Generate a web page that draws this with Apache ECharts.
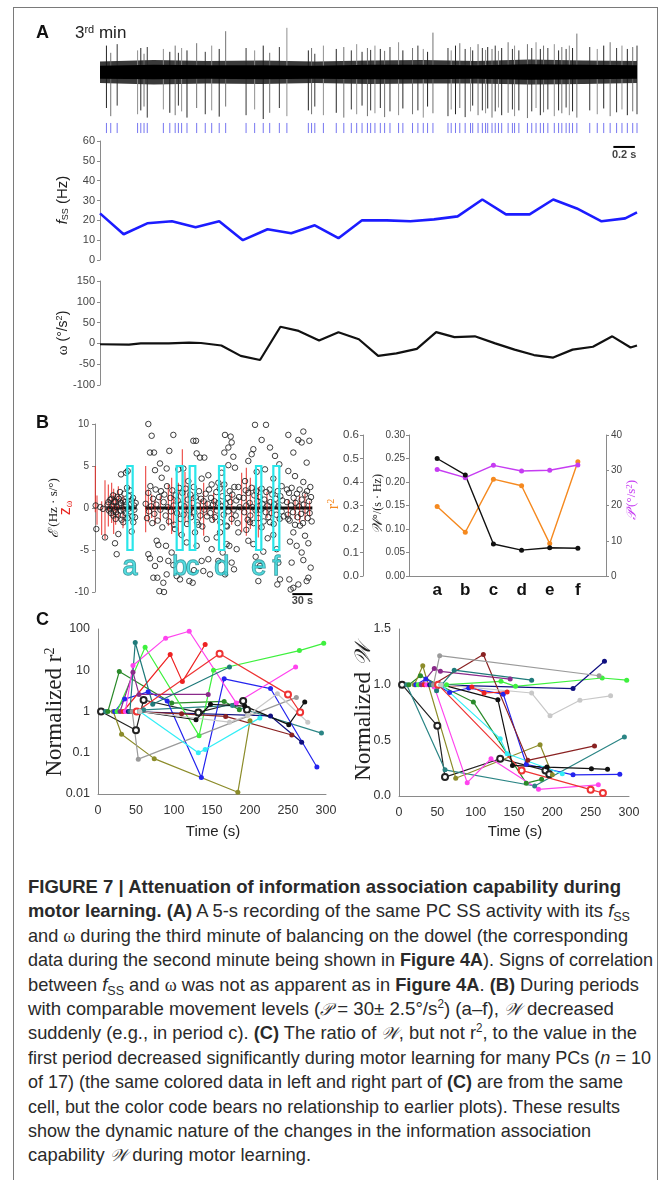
<!DOCTYPE html>
<html>
<head>
<meta charset="utf-8">
<script src="https://cdn.jsdelivr.net/npm/echarts@6/dist/echarts.min.js"></script>
<style>
  html, body { margin: 0; padding: 0; background: #fff; }
  #frame { position: absolute; left: 13px; top: 7px; width: 643px; height: 1200px; border: 1px solid #7a7a7a; border-bottom: none; }
  #chart { position: absolute; left: 0; top: 0; width: 669px; height: 860px; }
  #caption { position: absolute; left: 28px; top: 875px; color: #2a2a2a;
    font-family: 'Liberation Sans Narrow', 'Liberation Sans', Arial, sans-serif; font-size: 19px; }
  #caption .ln { height: 24.4px; line-height: 24.4px; white-space: nowrap; }
  #caption .ln span.t { display: inline-block; transform-origin: 0 50%; }
  #caption sub { font-size: 13px; vertical-align: -4px; line-height: 0; }
  #caption sup { font-size: 12px; vertical-align: 7px; line-height: 0; }
  #caption .g { font-family: 'Liberation Serif', 'DejaVu Serif', serif; }
  #caption .m { font-family: 'DejaVu Serif', 'Liberation Serif', serif; font-style: italic; font-size: 17px; }
</style>
</head>
<body>
<div id="frame"></div>
<div id="chart"></div>
<div id="caption">
  <div class="ln" data-w="593"><span class="t"><b>FIGURE 7 | Attenuation of information association capability during</b></span></div>
  <div class="ln" data-w="602"><span class="t"><b>motor learning. (A)</b> A 5-s recording of the same PC SS activity with its <i>f</i><sub>SS</sub></span></div>
  <div class="ln" data-w="600"><span class="t">and <span class="g">ω</span> during the third minute of balancing on the dowel (the corresponding</span></div>
  <div class="ln" data-w="625"><span class="t">data during the second minute being shown in <b>Figure 4A</b>). Signs of correlation</span></div>
  <div class="ln" data-w="611"><span class="t">between <i>f</i><sub>SS</sub> and <span class="g">ω</span> was not as apparent as in <b>Figure 4A</b>. <b>(B)</b> During periods</span></div>
  <div class="ln" data-w="586"><span class="t">with comparable movement levels (<span class="m">𝒫</span> = 30± 2.5°/s<sup>2</sup>) (a–f), <span class="m">𝒲</span> decreased</span></div>
  <div class="ln" data-w="609"><span class="t">suddenly (e.g., in period c). <b>(C)</b> The ratio of <span class="m">𝒲</span>, but not r<sup>2</sup>, to the value in the</span></div>
  <div class="ln" data-w="623"><span class="t">first period decreased significantly during motor learning for many PCs (<i>n</i> = 10</span></div>
  <div class="ln" data-w="595"><span class="t">of 17) (the same colored data in left and right part of <b>(C)</b> are from the same</span></div>
  <div class="ln" data-w="592"><span class="t">cell, but the color code bears no relationship to earlier plots). These results</span></div>
  <div class="ln" data-w="563"><span class="t">show the dynamic nature of the changes in the information association</span></div>
  <div class="ln" data-w="283"><span class="t">capability <span class="m">𝒲</span> during motor learning.</span></div>
</div>
<script>
// ===================== Panel A: 5-s recording, 3rd minute =====================
// simple spikes: [time (s), trough, peak] (normalised trace units)
const spikes = [
  [0.06,-0.75,0.55],[0.10,-0.92,0.40],[0.16,-0.70,0.58],[0.35,-0.88,0.45],[0.38,-0.80,0.50],
  [0.41,-0.72,0.38],[0.44,-0.95,0.52],[0.59,-0.78,0.48],[0.65,-0.85,0.42],[0.70,-0.90,0.55],
  [0.73,-0.70,0.40],[0.76,-0.82,0.50],[0.81,-0.95,0.45],[0.90,-0.75,0.60],[0.98,-0.88,0.42],
  [1.04,-0.80,0.55],[1.11,-0.93,0.48],[1.17,-0.72,0.85],[1.36,-0.90,0.50],[1.44,-0.78,0.45],
  [1.52,-0.98,0.55],[1.58,-0.85,0.40],[1.67,-0.75,0.52],[1.74,-0.92,0.92],[1.94,-0.80,0.45],
  [1.97,-0.88,0.50],[2.00,-0.72,0.38],[2.08,-0.90,0.55],[2.20,-0.85,0.48],[2.27,-0.95,0.52],
  [2.34,-0.78,0.45],[2.39,-0.88,0.58],[2.44,-0.70,0.42],[2.49,-0.92,0.50],[2.52,-0.80,0.46],
  [2.56,-0.86,0.55],[2.61,-0.75,0.48],[2.65,-0.94,0.44],[2.70,-0.82,0.52],[2.78,-0.90,0.62],
  [2.82,-0.76,0.45],[2.91,-0.88,0.50],[2.96,-0.80,0.55],[3.01,-0.95,0.48],[3.05,-0.72,0.42],
  [3.10,-0.86,0.82],[3.24,-0.92,0.50],[3.27,-0.78,0.45],[3.31,-0.88,0.55],[3.35,-0.75,0.60],
  [3.40,-0.94,0.48],[3.45,-0.82,0.52],[3.47,-0.70,0.45],[3.52,-0.90,0.58],[3.56,-0.80,0.50],
  [3.59,-0.86,0.46],[3.61,-0.76,0.52],[3.65,-0.95,0.48],[3.68,-0.82,0.55],[3.71,-0.74,0.44],
  [3.74,-0.90,0.50],[3.80,-0.85,0.62],[3.84,-0.78,0.48],[3.86,-0.92,0.55],[3.90,-0.80,0.45],
  [3.98,-0.96,0.58],[4.02,-0.82,0.50],[4.06,-0.75,0.62],[4.10,-0.90,0.48],[4.13,-0.84,0.55],
  [4.17,-0.78,0.50],[4.23,-0.92,0.58],[4.27,-0.80,0.45],[4.30,-0.86,0.52],[4.34,-0.74,0.48],
  [4.37,-0.90,0.55],[4.40,-0.82,0.50],[4.44,-0.95,0.80],[4.56,-0.80,0.52],[4.63,-0.88,0.48],
  [4.69,-0.76,0.55],[4.75,-0.92,0.62],[4.81,-0.84,0.50],[4.86,-0.78,0.55],[4.91,-0.90,0.48],
  [4.96,-0.82,0.52],[5.00,-0.88,0.55]
];
// background noise envelope of the recording
const bandTime    = [0, 0.5, 1, 1.5, 2, 2.5, 3, 3.5, 4, 4.5, 5];
const bandOuterHi = [0.22, 0.25, 0.23, 0.24, 0.22, 0.24, 0.25, 0.23, 0.26, 0.24, 0.23];
const bandOuterLo = [-0.23, -0.26, -0.24, -0.25, -0.23, -0.25, -0.24, -0.24, -0.26, -0.25, -0.23];
const bandCoreHi  = [0.13, 0.15, 0.14, 0.14, 0.13, 0.15, 0.15, 0.14, 0.16, 0.15, 0.14];
const bandCoreLo  = [-0.14, -0.15, -0.14, -0.15, -0.14, -0.15, -0.15, -0.14, -0.16, -0.15, -0.14];

// SS firing rate
const fssTime = [0, 0.22, 0.44, 0.67, 0.89, 1.11, 1.33, 1.56, 1.78, 2.00, 2.22, 2.44,
                 2.67, 2.89, 3.11, 3.33, 3.56, 3.78, 4.00, 4.22, 4.44, 4.67, 4.89, 5.0];
const fssHz   = [23.5, 13, 18.5, 19.5, 16.5, 19.5, 10, 15.5, 13.5, 17.5, 11, 20,
                 20, 19.5, 20.5, 22, 30.5, 23, 23, 30.5, 26, 19.5, 21, 24];
// angular acceleration
const omegaTime = [0, 0.27, 0.38, 0.64, 0.83, 0.94, 1.13, 1.31, 1.49, 1.68, 1.85, 2.04, 2.22, 2.41,
                   2.59, 2.76, 2.95, 3.13, 3.30, 3.49, 3.68, 3.86, 4.04, 4.22, 4.40, 4.59, 4.77, 4.94, 5.0];
const omegaVal  = [-2, -3, 0, 0, 2, 1, -5, -30, -40, 40, 30, 7, 27, 10,
                   -30, -24, -13, 27, 15, 17, 0, -15, -28, -34, -15, -8, 17, -10, -5];
const fssScaleBar = [4.78, 4.98, 57];   // 0.2 s bar: start, end, height
const fssScaleText = '0.2 s';

// ===================== Panel B: information association over time =====================
// open circles: [time (s), ε]
const epsPoints = [
  [1,0.3],[2,-2.5],[12,-0.1],[15,-3.5],[8,0.1],
  [39,4.0],[46.5,4.2],[49,4.4],[52.5,2.1],[55,-2.8],[30,-4.2],[32.5,-5.5],[35,-3.1],[37.5,1.9],[25,1.1],
  [27.5,-0.9],[41.5,-0.9],[45,0.7],[57.5,-1.7],[58.5,0.3],[50,-0.1],[20,0.7],[22.5,-0.1],[42.5,-1.7],
  [60,-1.1],[55,0.9],[33.5,1.3],[36.5,0.3],[28.5,0.7],[31.5,-0.5],
  [80,10],[85,8.6],[82.5,6.6],[88.5,6.6],[117.5,8.7],[111.5,6.8],[147.5,8],[151.5,8],[152.5,6.5],[157.5,6],
  [164,6],[170,3.9],[125,4.6],[132.5,4.7],[97.5,5.3],[107.5,4.7],[90,4.5],[100,3.6],[140,3.2],[160,3.5],[175,2.8],
  [82.5,-6],[80,-5.5],[90,-6.9],[92.5,-3.9],[95,-4.4],[87.5,-8.3],[93.5,-8.3],[102.5,-8.9],[103.5,-10],
  [96.5,-9.9],[107.5,-7.9],[110,-6.3],[117.5,-6.8],[122.5,-8.1],[127.5,-8.5],[141.5,-8.7],[146.5,-8.9],
  [148.5,-7.4],[160,-6.3],[162.5,-7.5],[172.5,-7.9],[170,-6.1],[175,-4.9],[167.5,-3.7],[150,-2.9],
  [152.5,-4.5],[137.5,-4.1],[97.5,-6.1],[106.5,-4.5],[115,-5.3],[130,-3.2],[120,-2.5],[155,-2.0],
  [195,8.7],[203.5,8.5],[200,7.2],[205,7.8],[194,6.6],[207.5,6.1],[200,5.1],[190,4.2],[210,4.8],[185,3.0],[215,2.5],
  [185,-6.3],[191.5,-5.3],[197.5,-4.3],[212.5,-4.9],[205,-6.5],[208.5,-7.3],[195,-7.9],[201.5,-4.5],
  [215,-2.9],[187.5,-2.9],[182.5,-3.5],[198,-2.2],
  [240,9.9],[256.5,9.9],[250,8.1],[237.5,7.0],[230,5.6],[235,6.4],[262.5,7.2],[270,6.2],[276.5,5.2],
  [242.5,4.3],[267.5,3.5],[225,3.2],[255,4.6],[280,2.6],
  [230,-3.9],[237.5,-4.3],[245,-8.7],[247.5,-6.9],[252.5,-5.2],[259,-3.6],[267.5,-3.2],[272.5,-4.9],
  [273.5,-9.1],[277.5,-8.5],[232.5,-1.7],[262.5,-1.7],[275,-6.5],[227,-2.6],[250,-2.3],[241,-5.8],
  [290,8.7],[305,8.1],[312.5,9.1],[321.5,8.0],[310,7.8],[297.5,6.6],[290,4.4],[317.5,5.4],[300,3.8],
  [312.5,3.1],[323,2.5],[288,2.2],
  [291.5,-8.5],[293.5,-9.7],[297.5,-9.5],[305,-9.1],[312.5,-6.2],[317.5,-8.7],[320,-8.3],[323.5,-7.1],
  [295,-6.5],[302.5,-4.5],[310,-5.3],[297.5,-2.9],[315,-3.3],[292.5,-4.0],[307.5,-2.1],[290,-1.3],[320,-4.2],
  [19,0.4],[21,-0.3],[23,1.0],[24,-0.6],[26,0.2],[27,1.5],[29,-0.2],[30,0.8],[31,-1.3],[33,0.1],[34,-0.8],
  [36,1.1],[38,-0.3],[39,0.6],[40,-1.4],[42,0.9],[43,-0.2],[44,1.7],[46,-0.6],[47,0.3],[48,2.4],[49,-1.2],
  [51,1.4],[53,-0.4],[54,0.5],[56,-1.0],[57,1.2],[59,-0.2],[61,0.6],
  [76,0.5],[78,-1.2],[80,1.8],[81,-0.4],[83,2.6],[84,0.2],[86,-1.8],[87,1.1],[89,-0.7],[91,2.2],[92,0.4],
  [94,-1.5],[96,1.3],[98,-0.2],[99,2.0],[101,-2.3],[103,0.7],[104,1.6],[106,-0.9],[108,2.6],[109,0.1],
  [111,-1.6],[113,1.2],[114,-0.4],[116,2.1],[118,0.3],[119,-2.0],[121,1.5],[123,-0.6],[124,0.9],[126,2.4],
  [128,-1.3],[129,0.4],[131,1.8],[133,-0.8],[134,0.2],[136,2.3],[138,-1.9],[139,1.0],[141,-0.3],[143,1.6],
  [144,-1.1],[146,0.6],[148,2.5],[149,-0.5],[151,1.3],[153,-1.7],[154,0.3],[156,2.0],[158,-0.9],[159,1.1],
  [161,-2.2],[163,0.8],[164,-0.2],[166,1.7],[168,-1.0],[169,0.5],[171,2.2],[173,-0.6],[174,1.2],[176,-1.4],[177,0.4],
  [179,0.8],[180,-1.1],[182,1.9],[183,-0.3],[185,0.6],[187,2.3],[188,-1.7],[190,0.2],[191,1.4],[193,-0.8],
  [194,2.8],[196,0.5],[197,-2.1],[199,1.2],[200,-0.4],[202,2.0],[203,0.7],[205,-1.3],[206,1.6],[208,-0.2],
  [209,2.5],[211,-0.9],[212,0.9],[214,-1.8],[216,1.3],[217,0.1],
  [223,1.2],[224,-0.5],[226,2.1],[227,0.3],[229,-1.4],[230,1.8],[232,0.6],[233,-0.9],[235,2.4],[236,0.1],
  [238,-1.8],[239,1.5],[241,-0.3],[242,2.0],[244,0.8],[245,-1.2],[247,1.3],[248,-0.2],[250,2.3],[251,0.5],
  [253,-1.6],[254,1.0],[256,-0.5],[257,1.9],[259,0.3],[260,-1.1],[262,2.2],[263,0.7],[265,-0.6],[266,1.6],
  [268,-1.9],[269,0.4],[271,1.1],[272,-0.8],[274,2.0],[275,0.2],[277,-1.3],[278,1.4],[280,-0.4],[281,0.9],[283,-1.0],
  [288,0.7],[289,-0.8],[291,1.8],[292,-1.5],[294,0.3],[295,2.4],[297,-0.5],[298,1.2],[300,-2.0],[301,0.6],
  [303,1.7],[304,-1.1],[306,0.2],[307,2.2],[309,-0.7],[310,1.0],[312,-1.8],[313,0.4],[315,1.6],[316,-0.3],
  [318,2.0],[319,-1.2],[321,0.8],[322,-0.6],[324,1.3],[325,-1.6]
];
// z-scored ω: [time (s), low, high]
const zOmega = [
  [0.5,-0.5,5.0],[3,-2.0,1.5],[10,-3.2,0.8],[15,-3.7,3.3],[20,-2.2,2.8],[25,-1.8,3.0],[28,-3.1,2.3],
  [31,-2.0,1.8],[35,-1.5,2.6],[42,-2.4,1.5],[48,-1.2,1.9],[58,-0.8,1.2],
  [76,-2.9,5.0],[80,-1.7,2.2],[85,-1.2,1.6],[90,-2.0,1.0],[98,-1.5,1.4],[110,-2.1,2.8],[115,-3.1,3.6],
  [118,-2.0,1.5],[125,-3.3,3.0],[131,-3.7,7.0],[135,-1.7,4.3],[140,-2.0,2.8],[145,-1.0,1.4],[150,-2.2,1.9],
  [158,-1.5,1.0],[163,-3.3,3.0],[168,-0.9,0.8],
  [178,-1.7,1.8],[185,-0.9,1.0],[195,-1.3,2.2],[205,-2.0,1.7],
  [220,-2.9,4.2],[227,-3.3,4.8],[233,-2.5,3.6],[240,-1.5,2.7],[245,-3.5,2.5],[250,-1.3,2.2],[258,-1.2,1.9],
  [265,-0.9,1.0],[275,-1.0,1.1],
  [290,-1.0,1.0],[300,-1.3,1.1],[307,-1.7,1.5],[315,-1.5,1.7],[322,-1.0,0.8]
];
const zeroRuns = [[17, 62], [75, 326]];          // dense near-zero points
const periodNames = ['a', 'b', 'c', 'd', 'e', 'f'];
const periodSpans = [[48.5,56.5],[122.5,131.5],[142,150.5],[186,194],[241.5,249.5],[267.5,276.5]];
const periodBox = [-5, 5];                          // ε range of each period window
const periodLabelEps = -7.1;
const timeScaleBar = [296, 326, -10.25];            // 30 s bar
const timeScaleText = '30 s';

// per-period summary
const periodW  = [0.250, 0.215, 0.068, 0.055, 0.060, 0.059];
const periodR2 = [0.296, 0.186, 0.412, 0.384, 0.138, 0.486];
const periodP  = [30.2, 27.9, 31.4, 29.8, 30.0, 31.5];

// ===================== Panel C: 17 cells, normalised to first period =====================
const cellTimes = [
  [4,50,60,132,191,196], [10,60,177,294], [13,28,97,166,186], [20,31,74,184,200],
  [22,35,66,91,136,166,227,288], [25,62,133,152,265,297], [29,46,54,145], [33,95,111,141],
  [36,46,89,120,182,260], [40,227,268], [44,110,168,255], [42,49,72,173], [45,53,261],
  [51,160,250,266], [55,129,148,193,251,272], [55,132,141,213], [55,173,197,236,276]
];
const cellR2 = [
  [1,0.35,1.9,0.95,1.8,1.1], [1,1.1,1.4,0.3], [1,9.3,1.6,1.75,1.1], [1,0.28,0.072,0.011,0.6],
  [1,2,3,1.8,0.025,6.2,3.6,0.045], [1,36,0.26,10,30,45], [1,9,2.6,2.6], [1,24,5.3,42],
  [1,13,60,88,1.6,12], [1,0.78,0.18], [1,0.88,0.76,0.27], [1,47,1.5,12], [1,0.07,2.2],
  [1,25,2.6,0.96], [1,0.63,1.5,1.35,0.48,1.7], [1,0.1,0.12,0.7], [1,0.55,0.8,2.7,0.55]
];
const cellW = [
  [1,0.63,0.17,0.335,0.23,0.195], [1,0.235,0.09,0.53], [1,1.08,0.845,0.115,0.15], [1,1.17,0.16,0.46,0.19],
  [1,1.05,0.93,0.97,0.915,0.285,0.19,0.195], [1,1.0,1.03,0.985,1.06,1.04], [1,1.145,1.12,1.05], [1,0.98,0.925,0.935],
  [1,0.98,0.12,0.335,0.06,0.1], [1,0.965,1.21], [1,1.27,0.32,0.45], [1,0.945,1.13,1.04], [1,1.26,1.08],
  [1,0.23,0.057,0.027], [1,0.865,0.275,0.26,0.245,0.24], [1,0.515,0.38,0.2], [1,0.925,0.72,0.86,0.9]
];

// ----- styling -----
const cellColors = ['#222222','#2b8585','#2a8a2a','#8c8c2a','#2424ee','#3ef03e','#8a2a8a','#ee2222',
                    '#ff44ee','#101080','#8a2222','#1f7a7a','#9a9a9a','#ee3333','#111111','#33eef6','#c8c8c8'];
const cellOpen = [true,false,false,false,false,false,false,false,false,false,false,false,false,true,false,false,false];

const SANS = 'Liberation Sans, Arial, sans-serif';
const SERIF = 'Liberation Serif, DejaVu Serif, serif';
const MATH = 'DejaVu Serif, Liberation Serif, serif';
const AX = '#8a8a8a';
const TXT = '#333';

const chart = echarts.init(document.getElementById('chart'), null, { renderer: 'canvas' });

const grids = [
  { left: 100, top: 24,  width: 537, height: 96 },   // 0 recording
  { left: 100, top: 122, width: 537, height: 12 },   // 1 spike raster
  { left: 100, top: 141, width: 537, height: 119 },  // 2 fSS
  { left: 100, top: 281, width: 537, height: 104 },  // 3 ω
  { left: 95,  top: 424, width: 220, height: 168 },  // 4 ε over time
  { left: 409, top: 435, width: 197, height: 141 },  // 5 per-period summary
  { left: 98,  top: 629, width: 228, height: 165 },  // 6 normalised r²
  { left: 399, top: 629, width: 230, height: 167 }   // 7 normalised W
];

function hiddenX(g, min, max) {
  return { gridIndex: g, type: 'value', min, max, show: false };
}
function yAx(g, o) {
  return Object.assign({
    gridIndex: g, type: 'value',
    axisLine: { show: true, lineStyle: { color: AX, width: 1 } },
    axisTick: { show: true, length: 3, lineStyle: { color: AX } },
    axisLabel: { color: '#444', fontSize: 11, fontFamily: SANS, margin: 5 },
    splitLine: { show: false }
  }, o);
}

const xAxes = [
  hiddenX(0, 0, 5), hiddenX(1, 0, 5), hiddenX(2, 0, 5), hiddenX(3, 0, 5), hiddenX(4, 0, 330),
  { gridIndex: 5, type: 'value', min: 0, max: 7, interval: 1,
    axisLine: { show: true, lineStyle: { color: AX } }, axisTick: { show: false }, splitLine: { show: false },
    axisLabel: { color: '#111', fontSize: 17, fontWeight: 'bold', fontFamily: SANS, margin: 6,
      formatter: v => periodNames[v - 1] || '' } },
  { gridIndex: 6, type: 'value', min: 0, max: 300, interval: 50,
    axisLine: { show: true, onZero: false, lineStyle: { color: AX } }, axisTick: { show: false }, splitLine: { show: false },
    axisLabel: { color: TXT, fontSize: 12.5, fontFamily: SANS, margin: 10 } },
  { gridIndex: 7, type: 'value', min: 0, max: 300, interval: 50,
    axisLine: { show: true, onZero: false, lineStyle: { color: AX } }, axisTick: { show: false }, splitLine: { show: false },
    axisLabel: { color: TXT, fontSize: 12.5, fontFamily: SANS, margin: 10 } }
];

const yAxes = [
  { gridIndex: 0, type: 'value', min: -1, max: 1, show: false },
  { gridIndex: 1, type: 'value', min: 0, max: 1, show: false },
  yAx(2, { min: 0, max: 60, interval: 10 }),
  yAx(3, { min: -100, max: 150, interval: 50 }),
  yAx(4, { min: -10, max: 10, interval: 5, axisLabel: { color: '#444', fontSize: 10, fontFamily: SANS, margin: 6 } }),
  yAx(5, { min: 0, max: 0.3, interval: 0.05,
    axisLabel: { color: '#444', fontSize: 10, fontFamily: SANS, margin: 4, formatter: v => v.toFixed(2) } }),
  yAx(5, { min: 0, max: 0.6, interval: 0.1, position: 'left', offset: 46,
    axisLabel: { color: '#444', fontSize: 11.5, fontFamily: SANS, margin: 4, formatter: v => v.toFixed(1) } }),
  yAx(5, { min: 0, max: 40, interval: 10, position: 'right',
    axisLabel: { color: '#444', fontSize: 10, fontFamily: SANS, margin: 5 } }),
  { gridIndex: 6, type: 'log', logBase: 10, min: 0.01, max: 100,
    axisLine: { show: true, lineStyle: { color: AX } }, axisTick: { show: false }, splitLine: { show: false },
    axisLabel: { color: TXT, fontSize: 12.5, fontFamily: SANS, margin: 8, formatter: v => String(+v.toPrecision(3)) } },
  { gridIndex: 7, type: 'value', min: 0, max: 1.5, interval: 0.5,
    axisLine: { show: true, lineStyle: { color: AX } }, axisTick: { show: false }, splitLine: { show: false },
    axisLabel: { color: TXT, fontSize: 12.5, fontFamily: SANS, margin: 8, formatter: v => v.toFixed(1) } }
];

// ----- render helpers -----
function bandPolygon(hi, lo, fill) {
  return function (params, api) {
    const pts = [];
    for (let i = 0; i < bandTime.length; i++) pts.push(api.coord([bandTime[i], hi[i]]));
    for (let i = bandTime.length - 1; i >= 0; i--) pts.push(api.coord([bandTime[i], lo[i]]));
    return { type: 'polygon', shape: { points: pts }, style: { fill } };
  };
}
function verticalSegments(colors, width, opacity) {
  return function (params, api) {
    const a = api.coord([api.value(0), api.value(1)]);
    const b = api.coord([api.value(0), api.value(2)]);
    return { type: 'line', shape: { x1: a[0], y1: a[1], x2: b[0], y2: b[1] },
      style: { stroke: colors[params.dataIndex % colors.length], lineWidth: width, opacity: opacity } };
  };
}

const series = [];

// recording
series.push({ type: 'custom', xAxisIndex: 0, yAxisIndex: 0, data: [[0]], silent: true, z: 1,
  renderItem: bandPolygon(bandOuterHi, bandOuterLo, '#3a3a3a') });
series.push({ type: 'custom', xAxisIndex: 0, yAxisIndex: 0, data: spikes, silent: true, z: 2,
  renderItem: verticalSegments(['#1a1a1a', '#6a6a6a', '#2a2a2a', '#8a8a8a'], 1, 0.95) });
series.push({ type: 'custom', xAxisIndex: 0, yAxisIndex: 0, data: [[0]], silent: true, z: 3,
  renderItem: bandPolygon(bandCoreHi, bandCoreLo, '#000') });
// raster of detected spikes
series.push({ type: 'custom', xAxisIndex: 1, yAxisIndex: 1, silent: true,
  data: spikes.map(s => [s[0], 0.08, 0.92]),
  renderItem: verticalSegments(['#7676f0'], 1, 1) });
// fSS
series.push({ type: 'line', xAxisIndex: 2, yAxisIndex: 2, showSymbol: false, symbol: 'none',
  data: fssTime.map((t, i) => [t, fssHz[i]]), lineStyle: { color: '#1c1cff', width: 2.6 } });
series.push({ type: 'line', xAxisIndex: 2, yAxisIndex: 2, symbol: 'none', silent: true,
  data: [[fssScaleBar[0], fssScaleBar[2]], [fssScaleBar[1], fssScaleBar[2]]],
  lineStyle: { color: '#000', width: 2 } });
series.push({ type: 'scatter', xAxisIndex: 2, yAxisIndex: 2, symbolSize: 1, silent: true,
  itemStyle: { color: 'rgba(0,0,0,0)' },
  data: [[(fssScaleBar[0] + fssScaleBar[1]) / 2, fssScaleBar[2]]],
  label: { show: true, position: 'bottom', distance: 2, formatter: fssScaleText,
    fontSize: 11, fontWeight: 'bold', fontFamily: SANS, color: '#111' } });
// ω
series.push({ type: 'line', xAxisIndex: 3, yAxisIndex: 3, symbol: 'none',
  data: omegaTime.map((t, i) => [t, omegaVal[i]]), lineStyle: { color: '#111', width: 2.2 } });

// Panel B: ε and zω over time
series.push({ type: 'custom', xAxisIndex: 4, yAxisIndex: 4, silent: true, z: 1,
  data: zeroRuns.map(r => [r[0], r[1]]),
  renderItem: function (params, api) {
    const a = api.coord([api.value(0), 0]);
    const b = api.coord([api.value(1), 0]);
    return { type: 'line', shape: { x1: a[0], y1: a[1], x2: b[0], y2: b[1] }, style: { stroke: '#111', lineWidth: 3 } };
  } });
series.push({ type: 'custom', xAxisIndex: 4, yAxisIndex: 4, data: zOmega, silent: true, z: 2,
  renderItem: verticalSegments(['#e8251f'], 1.1, 0.85) });
series.push({ type: 'scatter', xAxisIndex: 4, yAxisIndex: 4, data: epsPoints, symbol: 'circle',
  symbolSize: 5.5, z: 3, silent: true,
  itemStyle: { color: 'rgba(255,255,255,0)', borderColor: '#1e1e1e', borderWidth: 0.9, opacity: 0.95 } });
series.push({ type: 'custom', xAxisIndex: 4, yAxisIndex: 4, data: periodSpans, silent: true, z: 4,
  renderItem: function (params, api) {
    const a = api.coord([api.value(0), periodBox[1]]);
    const b = api.coord([api.value(1), periodBox[0]]);
    return { type: 'rect', shape: { x: a[0], y: a[1], width: b[0] - a[0], height: b[1] - a[1] },
      style: { fill: 'none', stroke: '#2ae6ea', lineWidth: 2.2 } };
  } });
series.push({ type: 'scatter', xAxisIndex: 4, yAxisIndex: 4, symbolSize: 1, silent: true, z: 5,
  itemStyle: { color: 'rgba(0,0,0,0)' },
  data: periodSpans.map((s, i) => ({ value: [(s[0] + s[1]) / 2, periodLabelEps], name: periodNames[i] })),
  label: { show: true, position: 'inside', formatter: p => p.name, fontSize: 27, fontFamily: SANS,
    color: '#3ad8dc', textBorderColor: '#1a7f86', textBorderWidth: 1.3 } });
series.push({ type: 'line', xAxisIndex: 4, yAxisIndex: 4, symbol: 'none', silent: true, clip: false,
  data: [[timeScaleBar[0], timeScaleBar[2]], [timeScaleBar[1], timeScaleBar[2]]],
  lineStyle: { color: '#000', width: 2 } });
series.push({ type: 'scatter', xAxisIndex: 4, yAxisIndex: 4, symbolSize: 1, silent: true, clip: false,
  itemStyle: { color: 'rgba(0,0,0,0)' },
  data: [[(timeScaleBar[0] + timeScaleBar[1]) / 2, timeScaleBar[2]]],
  label: { show: true, position: 'bottom', distance: 1, formatter: timeScaleText,
    fontSize: 11, fontWeight: 'bold', fontFamily: SANS, color: '#111' } });

// Panel B: per-period summary
const periodX = periodNames.map((n, i) => i + 1);
function periodLine(yIdx, vals, color) {
  return { type: 'line', xAxisIndex: 5, yAxisIndex: yIdx, symbol: 'circle', symbolSize: 5,
    data: periodX.map((x, i) => [x, vals[i]]),
    lineStyle: { color, width: 1.4 }, itemStyle: { color } };
}
series.push(periodLine(6, periodR2, '#f5891f'));
series.push(periodLine(7, periodP, '#c63cf2'));
series.push(periodLine(5, periodW, '#111'));

// Panel C
cellTimes.forEach((ts, k) => {
  const open = cellOpen[k];
  const base = {
    type: 'line', symbol: open ? 'emptyCircle' : 'circle', symbolSize: open ? 6 : 5,
    lineStyle: { color: cellColors[k], width: 1.2 },
    itemStyle: { color: cellColors[k], borderColor: cellColors[k], borderWidth: open ? 1.2 : 0 }
  };
  series.push(Object.assign({}, base, { xAxisIndex: 6, yAxisIndex: 8, data: ts.map((t, i) => [t, cellR2[k][i]]) }));
  series.push(Object.assign({}, base, { xAxisIndex: 7, yAxisIndex: 9, data: ts.map((t, i) => [t, cellW[k][i]]) }));
});

// ----- titles and axis names -----
function txt(x, y, text, font, fill, rot, rich) {
  return { type: 'text', x, y, rotation: rot || 0, silent: true,
    style: { text, font, fill: fill || '#222', align: 'center', verticalAlign: 'middle', rich: rich || {} } };
}
const R90 = Math.PI / 2;
const graphics = [
  { type: 'text', x: 36, y: 33, silent: true,
    style: { text: 'A', font: 'bold 18px ' + SANS, fill: '#111', verticalAlign: 'middle' } },
  { type: 'text', x: 75, y: 33, silent: true,
    style: { text: '3{sup|rd} min', font: '17px ' + SANS, fill: '#222', verticalAlign: 'middle',
      rich: { sup: { fontSize: 11, verticalAlign: 'top', fontFamily: SANS } } } },
  txt(63, 200, '{it|f}{sub|SS} (Hz)', '15px ' + SANS, '#222', R90,
    { it: { fontStyle: 'italic', fontSize: 15, fontFamily: SANS },
      sub: { fontSize: 9, verticalAlign: 'bottom', fontFamily: SANS } }),
  txt(63, 333, '{g|ω} (°/s{sup|2})', '14px ' + SANS, '#222', R90,
    { g: { fontFamily: SERIF, fontSize: 15 }, sup: { fontSize: 9, verticalAlign: 'top', fontFamily: SANS } }),
  { type: 'text', x: 36, y: 423, silent: true,
    style: { text: 'B', font: 'bold 18px ' + SANS, fill: '#111', verticalAlign: 'middle' } },
  txt(54, 508, '{e|ℰ} (Hz · s/°)', '13px ' + SERIF, '#222', R90,
    { e: { fontFamily: MATH, fontStyle: 'italic', fontSize: 14 } }),
  txt(66, 508, 'z{sub|ω}', '16px ' + SANS, '#e8251f', R90,
    { sub: { fontSize: 10, verticalAlign: 'bottom', fontFamily: SERIF } }),
  txt(334, 504, 'r{sup|2}', '16px ' + SERIF, '#f5891f', R90,
    { sup: { fontSize: 10, verticalAlign: 'top', fontFamily: SERIF } }),
  txt(378, 504, '{w|𝒲}°/(s · Hz)', '12px ' + SERIF, '#222', R90,
    { w: { fontFamily: MATH, fontStyle: 'italic', fontSize: 14 } }),
  txt(632, 500, '{p|𝒫} (°/s{sup|2})', '13px ' + SERIF, '#c63cf2', R90,
    { p: { fontFamily: MATH, fontStyle: 'italic', fontSize: 14 },
      sup: { fontSize: 9, verticalAlign: 'top', fontFamily: SERIF } }),
  { type: 'text', x: 36, y: 620, silent: true,
    style: { text: 'C', font: 'bold 18px ' + SANS, fill: '#111', verticalAlign: 'middle' } },
  txt(55, 712, 'Normalized r{sup|2}', '23px ' + SERIF, '#222', R90,
    { sup: { fontSize: 14, verticalAlign: 'top', fontFamily: SERIF } }),
  txt(364, 712, 'Normalized {w|𝒲}', '23px ' + SERIF, '#222', R90,
    { w: { fontFamily: MATH, fontStyle: 'italic', fontSize: 22 } }),
  txt(213, 832, 'Time (s)', '15px ' + SANS, '#222', 0),
  txt(515, 832, 'Time (s)', '15px ' + SANS, '#222', 0)
];

chart.setOption({
  animation: false,
  backgroundColor: 'transparent',
  grid: grids,
  xAxis: xAxes,
  yAxis: yAxes,
  series: series,
  graphic: graphics
});

// fit each caption line to its typeset width
document.querySelectorAll('#caption .ln').forEach(ln => {
  const span = ln.querySelector('span.t');
  const w = span.getBoundingClientRect().width;
  const target = +ln.dataset.w;
  if (w > 0) span.style.transform = 'scaleX(' + (target / w).toFixed(4) + ')';
});
</script>
</body>
</html>
